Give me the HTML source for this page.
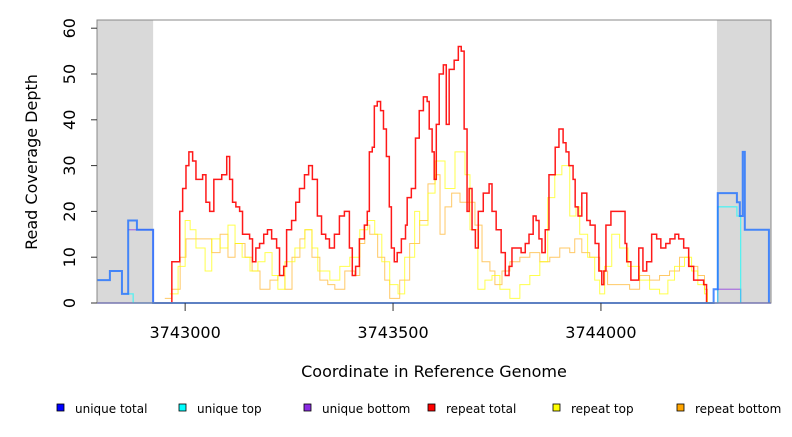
<!DOCTYPE html>
<html><head><meta charset="utf-8"><style>
body{margin:0;background:#fff;}
svg text{font-family:"DejaVu Sans","Liberation Sans",sans-serif;}
</style></head><body>
<svg id="chart" width="792" height="432" xmlns="http://www.w3.org/2000/svg">
<g id="bg"></g><g id="series"></g><g id="axes"></g><g id="legend"></g>
</svg>
<script>
const xTicks=[3743000,3743500,3744000];
const yTicks=[0,10,20,30,40,50,60];
const grayRegions=[[3742788,3742923],[3744279,3744409]];
const redX=[3742927,3742963,3742968,3742987,3742994,3743002,3743009,3743018,3743026,3743035,3743042,3743050,3743059,3743069,3743088,3743100,3743107,3743114,3743122,3743131,3743138,3743155,3743162,3743170,3743179,3743189,3743198,3743208,3743220,3743227,3743237,3743244,3743256,3743266,3743275,3743287,3743297,3743306,3743318,3743328,3743338,3743347,3743359,3743371,3743383,3743395,3743402,3743410,3743419,3743431,3743438,3743443,3743450,3743455,3743462,3743470,3743477,3743484,3743491,3743496,3743503,3743510,3743520,3743530,3743534,3743544,3743554,3743563,3743573,3743582,3743587,3743594,3743599,3743604,3743611,3743621,3743628,3743635,3743647,3743657,3743664,3743671,3743678,3743683,3743690,3743698,3743705,3743717,3743722,3743731,3743738,3743748,3743760,3743770,3743779,3743786,3743798,3743808,3743818,3743827,3743837,3743844,3743851,3743858,3743866,3743875,3743890,3743899,3743909,3743916,3743923,3743933,3743938,3743945,3743954,3743966,3743974,3743986,3743995,3744002,3744007,3744012,3744024,3744041,3744058,3744062,3744072,3744084,3744091,3744101,3744110,3744122,3744134,3744144,3744156,3744166,3744178,3744187,3744199,3744211,3744223,3744247,3744254];
const redY=[0,0,9,20,25,30,33,31,27,27,28,22,20,27,28,32,27,22,21,20,15,14,9,12,13,15,16,14,12,6,8,16,18,22,25,28,30,27,19,15,14,12,15,19,20,12,6,8,14,17,20,33,34,43,44,42,38,32,21,12,9,11,14,17,23,25,36,42,45,44,38,33,27,39,50,52,39,51,53,56,55,38,20,25,16,12,20,24,24,26,20,16,11,6,8,12,12,11,13,15,19,18,14,11,16,28,34,38,35,33,30,27,21,19,24,18,17,13,7,4,7,17,20,20,13,9,5,5,12,7,9,15,14,12,13,14,15,14,12,8,5,4,0];
const yelX=[3742963,3742983,3743000,3743012,3743026,3743048,3743064,3743084,3743103,3743120,3743137,3743156,3743175,3743192,3743209,3743223,3743240,3743264,3743288,3743305,3743319,3743348,3743372,3743396,3743420,3743439,3743456,3743473,3743492,3743512,3743528,3743552,3743564,3743584,3743601,3743625,3743649,3743673,3743685,3743704,3743721,3743738,3743757,3743781,3743805,3743829,3743853,3743872,3743889,3743906,3743925,3743940,3743949,3743968,3743985,3743997,3744009,3744026,3744045,3744065,3744093,3744117,3744141,3744161,3744177,3744201,3744218,3744233,3744249,3744256];
const yelY=[2,8,18,16,12,7,14,12,17,13,10,7,9,11,6,3,9,12,16,12,7,5,8,10,16,18,15,9,4,2,10,20,17,24,31,25,33,28,16,3,5,6,3,1,4,6,9,23,28,30,19,21,15,10,5,2,8,15,12,8,5,3,2,5,8,10,7,4,2,0];
const orX=[3742951,3742968,3742988,3743002,3743024,3743048,3743064,3743084,3743103,3743120,3743144,3743161,3743180,3743204,3743223,3743240,3743257,3743276,3743288,3743305,3743324,3743343,3743360,3743384,3743408,3743420,3743432,3743444,3743463,3743480,3743492,3743516,3743540,3743564,3743584,3743601,3743613,3743625,3743641,3743661,3743680,3743697,3743714,3743733,3743745,3743762,3743781,3743805,3743829,3743853,3743877,3743901,3743925,3743937,3743954,3743973,3743997,3744016,3744045,3744069,3744093,3744117,3744141,3744165,3744189,3744213,3744233,3744249,3744256];
const orY=[1,3,10,14,14,14,11,15,10,13,10,7,3,5,6,3,10,14,16,10,5,4,3,7,6,13,17,15,10,5,1,5,13,18,26,28,15,21,24,22,22,17,9,7,4,7,9,10,11,9,10,12,11,14,11,10,7,4,4,3,6,5,6,7,10,8,6,3,0];
const uTotX=[3742788,3742819,3742848,3742860,3742863,3742884,3742923,3744271,3744281,3744327,3744334,3744341,3744346,3744404];
const uTotY=[5,7,2,2,18,16,0,3,24,22,19,33,16,0];
const uTopX=[3742860,3742875,3744281,3744327,3744336];
const uTopY=[2,0,21,19,0];
const uBotX=[3742863,3742923,3744281,3744336];
const uBotY=[16,0,3,0];
const legendLabels=["unique total","unique top","unique bottom","repeat total","repeat top","repeat bottom"];
const legendColors=["#0000ff","#00ffff","#8a2be2","#ff0000","#ffff00","#ffa500"];

const X0=97,X1=771,Y0=303,YT=20;
const xMin=3742788,xMax=3744409;
const sx=v=>X0+(v-xMin)/(xMax-xMin)*(X1-X0);
const sy=v=>Y0-v*4.58;
const NS="http://www.w3.org/2000/svg";
function mk(tag,attrs,parent){const e=document.createElementNS(NS,tag);for(const k in attrs)e.setAttribute(k,attrs[k]);parent.appendChild(e);return e;}
const bg=document.getElementById('bg'),ser=document.getElementById('series'),ax=document.getElementById('axes'),lg=document.getElementById('legend');
grayRegions.forEach(r=>{const e=mk('rect',{x:sx(r[0]),y:YT,width:sx(r[1])-sx(r[0]),height:Y0-YT,fill:'#d9d9d9'},bg);

});
function step(xs,ys,color,w,op,name){let d='';xs.forEach((x,i)=>{const px=sx(x),py=sy(ys[i]);if(i==0)d+='M'+px+','+py;else d+='H'+px+'V'+py;});
const p=mk('path',{d:d,fill:'none',stroke:color,'stroke-width':w,'stroke-opacity':op},ser);

}
step(orX,orY,'#ffa500',1,0.6,'repeat-bottom-line');
step(yelX,yelY,'#ffff00',1,0.7,'repeat-top-line');
step(redX,redY,'#ff0000',1.5,0.9,'repeat-total-line');
mk('line',{x1:X0,x2:X1,y1:Y0,y2:Y0,stroke:'#5555ff','stroke-width':1.5},ser);
step(uBotX,uBotY,'#8a2be2',1.3,0.6,'unique-bottom-line');
step(uTopX,uTopY,'#00ffff',1.3,0.6,'unique-top-line');
step(uTotX,uTotY,'#1e6fff',2,0.8,'unique-total-line');
const box=mk('rect',{x:X0,y:YT,width:X1-X0,height:Y0-YT,fill:'none',stroke:'#888','stroke-width':1},ax);


yTicks.forEach(t=>{mk('line',{x1:X0-6,x2:X0,y1:sy(t),y2:sy(t),stroke:'#333'},ax);
const tx=mk('text',{x:75,y:sy(t),'font-size':16,'text-anchor':'middle',transform:`rotate(-90 75 ${sy(t)})`,fill:'#000'},ax);tx.textContent=t;

});
xTicks.forEach(t=>{mk('line',{x1:sx(t),x2:sx(t),y1:Y0,y2:Y0+8,stroke:'#333'},ax);
const tx=mk('text',{x:sx(t),y:338,'font-size':16,'text-anchor':'middle',fill:'#000'},ax);tx.textContent=t;

});
const xt=mk('text',{x:434,y:377,'font-size':16,'text-anchor':'middle'},ax);xt.textContent='Coordinate in Reference Genome';


const yt=mk('text',{x:37,y:162,'font-size':16,'text-anchor':'middle',transform:'rotate(-90 37 162)'},ax);yt.textContent='Read Coverage Depth';


const lx=[57,179,304,428,553,677];
legendLabels.forEach((l,i)=>{const g=mk('g',{},lg);


mk('rect',{x:lx[i],y:404,width:7,height:7,fill:legendColors[i],stroke:'#000','stroke-width':0.8},g);
const t=mk('text',{x:lx[i]+18,y:413,'font-size':12},g);t.textContent=l;});
</script>
</body></html>
